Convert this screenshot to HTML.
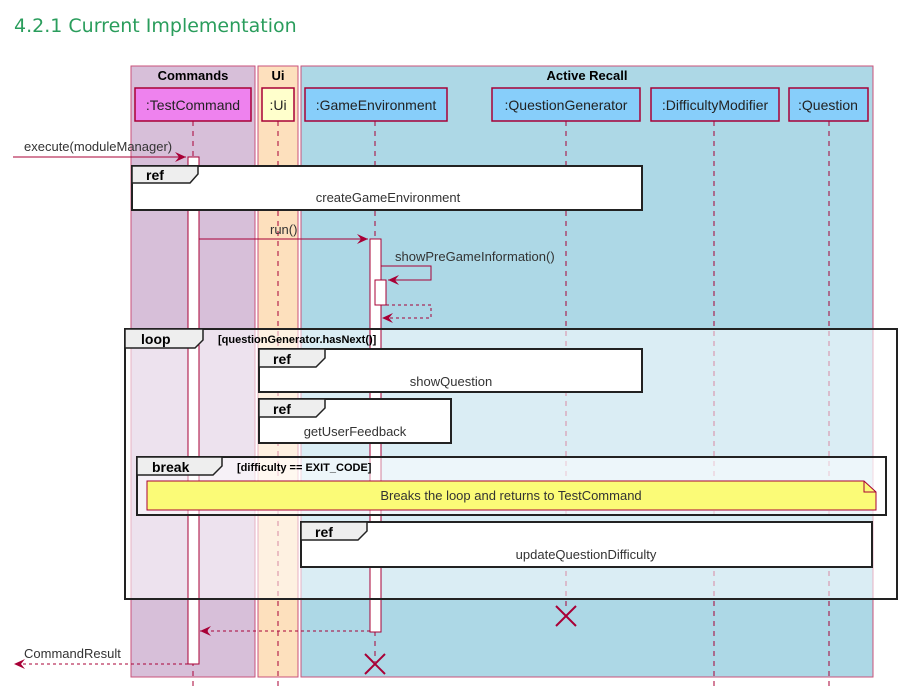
<!DOCTYPE html>
<html><head><meta charset="utf-8"><style>
html,body{margin:0;padding:0;background:#fff;width:921px;height:699px;overflow:hidden}
svg{display:block}
text{font-family:"Liberation Sans",sans-serif}
</style></head><body>
<svg width="921" height="699" viewBox="0 0 921 699" xmlns="http://www.w3.org/2000/svg">
<defs>
<marker id="a" markerWidth="12" markerHeight="10" refX="11" refY="5" orient="auto" markerUnits="userSpaceOnUse"><path d="M0,0 L11,5 L0,10 L4,5 Z" fill="#a80036"/></marker>
<marker id="o" markerWidth="12" markerHeight="10" refX="11" refY="5" orient="auto" markerUnits="userSpaceOnUse"><path d="M0,0 L11,5 L0,10 L4,5 Z" fill="#a80036"/></marker>
</defs>
<text x="14" y="32" font-size="19" fill="#2a9d5c" style="font-family:'DejaVu Sans',sans-serif">4.2.1 Current Implementation</text>

<rect x="131" y="66" width="124" height="611" fill="#d7bfd9" stroke="#c9527a" stroke-width="1"/>
<rect x="258" y="66" width="40" height="611" fill="#fde0bd" stroke="#c9527a" stroke-width="1"/>
<rect x="301" y="66" width="572" height="611" fill="#add8e6" stroke="#c9527a" stroke-width="1"/>
<text x="193" y="80" font-size="13" font-weight="bold" text-anchor="middle">Commands</text>
<text x="278" y="80" font-size="13" font-weight="bold" text-anchor="middle">Ui</text>
<text x="587" y="80" font-size="13" font-weight="bold" text-anchor="middle">Active Recall</text>

<g stroke="#a80036" stroke-width="1.5">
<rect x="135" y="88" width="116" height="33" fill="#ee82ee"/>
<rect x="262" y="88" width="32" height="33" fill="#ffffcc"/>
<rect x="305" y="88" width="142" height="33" fill="#87cefa"/>
<rect x="492" y="88" width="148" height="33" fill="#87cefa"/>
<rect x="651" y="88" width="128" height="33" fill="#87cefa"/>
<rect x="789" y="88" width="79" height="33" fill="#87cefa"/>
</g>
<g font-size="14" fill="#222" text-anchor="middle">
<text x="193" y="110">:TestCommand</text>
<text x="278" y="110">:Ui</text>
<text x="376" y="110">:GameEnvironment</text>
<text x="566" y="110">:QuestionGenerator</text>
<text x="715" y="110">:DifficultyModifier</text>
<text x="828" y="110">:Question</text>
</g>

<g stroke="#a80036" stroke-width="1" stroke-dasharray="5,5">
<line x1="193" y1="121" x2="193" y2="688"/>
<line x1="278" y1="121" x2="278" y2="688"/>
<line x1="375" y1="121" x2="375" y2="662"/>
<line x1="566" y1="121" x2="566" y2="608"/>
<line x1="714" y1="121" x2="714" y2="688"/>
<line x1="829" y1="121" x2="829" y2="688"/>
</g>

<rect x="125" y="329" width="772" height="270" fill="#fff" fill-opacity="0.55"/>

<rect x="188" y="157" width="11" height="507" fill="#fff" stroke="#a80036"/>
<rect x="370" y="239" width="11" height="393" fill="#fff" stroke="#a80036"/>
<rect x="375" y="280" width="11" height="25" fill="#fff" stroke="#a80036"/>

<g stroke="#a80036" stroke-width="1" fill="none">
<line x1="13" y1="157" x2="186" y2="157" marker-end="url(#a)"/>
<line x1="199" y1="239" x2="368" y2="239" marker-end="url(#a)"/>
<polyline points="381,266 431,266 431,280 388,280" marker-end="url(#a)"/>
<polyline points="386,305 431,305 431,318 382,318" stroke-dasharray="3,3" marker-end="url(#o)"/>
<line x1="370" y1="631" x2="200" y2="631" stroke-dasharray="3,3" marker-end="url(#o)"/>
<line x1="188" y1="664" x2="14" y2="664" stroke-dasharray="3,3" marker-end="url(#o)"/>
<path d="M556,606 L576,626 M576,606 L556,626 M365,654 L385,674 M385,654 L365,674" stroke-width="2"/>
</g>
<g font-size="13" fill="#333">
<text x="24" y="151">execute(moduleManager)</text>
<text x="270" y="234">run()</text>
<text x="395" y="261">showPreGameInformation()</text>
<text x="24" y="658">CommandResult</text>
</g>

<g stroke="#222" stroke-width="2">
<rect x="132" y="166" width="510" height="44" fill="#fff"/>
<path d="M132,166 L198,166 L198,174 L190,183 L132,183 Z" fill="#eee" stroke-width="1.5"/>
</g>
<text x="146" y="180" font-size="14" font-weight="bold">ref</text>
<text x="388" y="202" font-size="13" fill="#333" text-anchor="middle">createGameEnvironment</text>

<rect x="125" y="329" width="772" height="270" fill="none" stroke="#222" stroke-width="2"/>
<path d="M125,329 L203,329 L203,340 L195,348 L125,348 Z" fill="#eee" stroke="#222" stroke-width="1.5"/>
<text x="141" y="344" font-size="14" font-weight="bold">loop</text>
<text x="218" y="343" font-size="11" font-weight="bold">[questionGenerator.hasNext()]</text>

<rect x="259" y="349" width="383" height="43" fill="#fff" stroke="#222" stroke-width="2"/>
<path d="M259,349 L325,349 L325,358 L316,367 L259,367 Z" fill="#eee" stroke="#222" stroke-width="1.5"/>
<text x="273" y="364" font-size="14" font-weight="bold">ref</text>
<text x="451" y="386" font-size="13" fill="#333" text-anchor="middle">showQuestion</text>

<rect x="259" y="399" width="192" height="44" fill="#fff" stroke="#222" stroke-width="2"/>
<path d="M259,399 L325,399 L325,408 L316,417 L259,417 Z" fill="#eee" stroke="#222" stroke-width="1.5"/>
<text x="273" y="414" font-size="14" font-weight="bold">ref</text>
<text x="355" y="436" font-size="13" fill="#333" text-anchor="middle">getUserFeedback</text>

<rect x="137" y="457" width="749" height="58" fill="#fff" fill-opacity="0.5" stroke="#222" stroke-width="2"/>
<path d="M137,457 L222,457 L222,466 L213,475 L137,475 Z" fill="#eee" stroke="#222" stroke-width="1.5"/>
<text x="152" y="472" font-size="14" font-weight="bold">break</text>
<text x="237" y="471" font-size="11" font-weight="bold">[difficulty == EXIT_CODE]</text>
<path d="M147,481 L864,481 L876,492 L876,510 L147,510 Z" fill="#fbfb77" stroke="#a80036" stroke-width="1"/>
<path d="M864,481 L864,492 L876,492" fill="none" stroke="#a80036"/>
<text x="511" y="500" font-size="13" fill="#333" text-anchor="middle">Breaks the loop and returns to TestCommand</text>

<rect x="301" y="522" width="571" height="45" fill="#fff" stroke="#222" stroke-width="2"/>
<path d="M301,522 L367,522 L367,531 L358,540 L301,540 Z" fill="#eee" stroke="#222" stroke-width="1.5"/>
<text x="315" y="537" font-size="14" font-weight="bold">ref</text>
<text x="586" y="559" font-size="13" fill="#333" text-anchor="middle">updateQuestionDifficulty</text>
</svg>
</body></html>
